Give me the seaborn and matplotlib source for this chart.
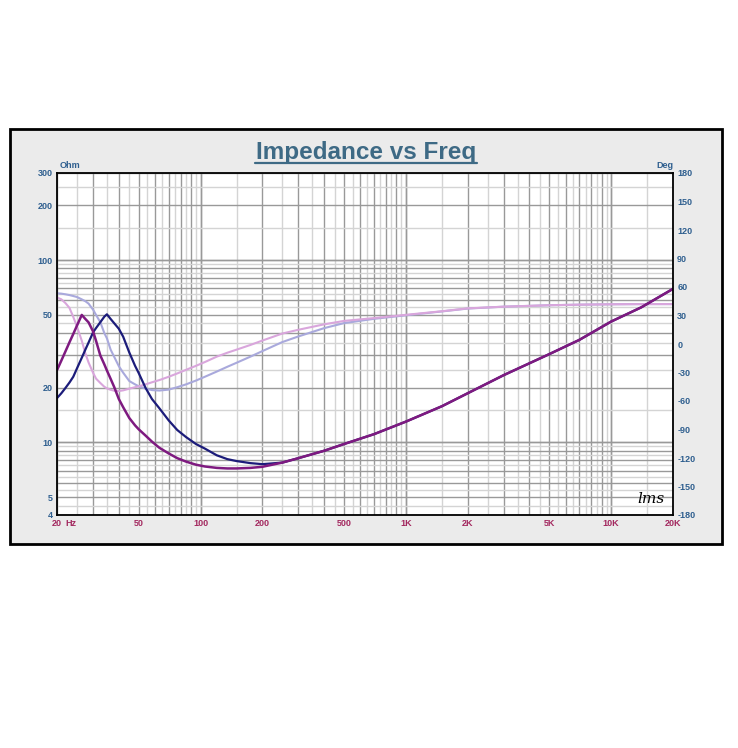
import matplotlib
matplotlib.use("Agg")
import numpy as np
import pandas as pd
import matplotlib.pyplot as plt
import matplotlib.transforms as mtransforms
from matplotlib.patches import Rectangle
from matplotlib.lines import Line2D
from matplotlib.ticker import NullLocator
import seaborn as sns

# %% data
freq = [20, 21, 22, 23, 24, 25, 26.4, 27.5, 28.5, 30,
        31, 32.5, 34, 35, 36.5, 38, 40, 42, 45, 48,
        50, 54, 58, 63, 70, 77, 85, 95, 105, 120,
        135, 150, 175, 200, 250, 300, 400, 500, 700, 1000,
        1500, 2000, 3000, 5000, 7000, 10000, 14000, 20000]

imp_purple = [24.9, 28.1, 31.6, 35.4, 39.3, 43.6, 50, 47.5, 45.5, 40.5,
              36, 30, 26.8, 24.8, 22.3, 20.1, 17.3, 15.6, 13.6, 12.4,
              11.8, 10.9, 10.1, 9.35, 8.7, 8.2, 7.85, 7.55, 7.38, 7.25,
              7.2, 7.2, 7.25, 7.35, 7.75, 8.2, 9.0, 9.8, 11.1, 13.0,
              15.8, 18.6, 23.4, 30.5, 36.5, 46, 55, 69.5]
imp_navy = [17.5, 18.6, 19.9, 21.3, 22.9, 25.4, 29.1, 32.3, 35.3, 40.2,
            42.4, 45.6, 48.9, 50.4, 47.5, 45, 42, 38, 31.1, 26.3,
            24, 19.9, 17.3, 15.4, 13.2, 11.7, 10.7, 9.8, 9.25, 8.5,
            8.1, 7.9, 7.7, 7.6, 7.75, 8.2, 9.0, 9.8, 11.1, 13.0,
            15.8, 18.6, 23.4, 30.5, 36.5, 46, 55, 69.5]
phase_pink = [49, 47, 43, 38, 28.5, 18.5, 3.5, -10, -19.5, -30.5,
              -36.5, -41, -45, -46.7, -48.2, -49.2, -49.5, -48.8, -47, -45.5,
              -44.6, -42.5, -40.3, -38, -34.5, -31, -27.2, -23, -19, -13.3,
              -9.2, -5.9, -1, 3.6, 11, 15, 20.7, 24.3, 27.3, 30.7,
              34.5, 37.5, 39.3, 40.8, 41.4, 41.8, 42, 42]
phase_lav = [53.4, 53, 52.3, 51.5, 50.5, 49.5, 47, 45, 42.5, 36,
             30.5, 23, 11.5, 6, -6, -13.6, -23.3, -30.2, -39, -42.5,
             -44.5, -47, -48.5, -49, -48, -45.5, -42.5, -38.5, -34.5, -29,
             -24, -19.7, -13.3, -7.5, 2, 8, 16.7, 22, 26.5, 30.2,
             34.3, 37.3, 39.3, 40.8, 41.4, 41.8, 42, 42]

x_ticks = [20, 23.4, 50, 100, 200, 500, 1000, 2000, 5000, 10000, 20000]
x_labels = ["20", "Hz", "50", "100", "200", "500", "1K", "2K", "5K", "10K", "20K"]
ohm_ticks = [4, 5, 10, 20, 50, 100, 200, 300]
deg_ticks = list(range(-180, 181, 30))

# %%
sns.set_style("white")
plt.rcParams['font.family'] = ['Liberation Sans', 'DejaVu Sans']

df = pd.DataFrame({"freq": freq, "imp_purple": imp_purple, "imp_navy": imp_navy,
                   "phase_pink": phase_pink, "phase_lav": phase_lav})

fig = plt.figure(figsize=(7.38, 7.48), dpi=100)
W, H = 738, 748

# grey panel with black frame
fig.patches.append(Rectangle((9.5 / W, 1 - 543.7 / H), (722 - 9.5) / W, (543.7 - 128.5) / H,
                             transform=fig.transFigure, facecolor="#ebebeb",
                             edgecolor="black", lw=2.0, zorder=0))

ax = fig.add_axes([57 / W, 1 - 515 / H, (673 - 57) / W, (515 - 173) / H])
ax2 = ax.twinx()
ax.set_zorder(3)
ax2.set_zorder(2)
ax.patch.set_visible(False)
ax2.patch.set_visible(True)
ax2.patch.set_facecolor("white")

ax.set_xscale("log")
ax.set_yscale("log")
ax.set_xlim(20, 20000)
ax.set_ylim(4, 300)
ax2.set_ylim(-180, 180)

# LMS style grid: solid at integer multiples, light at half steps
dark, light = "#999999", "#d4d4d4"
blend = mtransforms.blended_transform_factory(ax2.transAxes, ax.transData)
for base in [10, 100, 1000, 10000]:
    for k in np.arange(1, 10.5, 0.5):
        v = k * base
        if 20 <= v <= 20000:
            c = dark if k == int(k) else light
            ax2.axvline(v, color=c, lw=1.0, zorder=0)
for base in [1, 10, 100]:
    for k in np.arange(1, 10.5, 0.5):
        v = k * base
        if 4 <= v <= 300:
            c = dark if k == int(k) else light
            ax2.plot([0, 1], [v, v], transform=blend, color=c, lw=1.0, zorder=0)

sns.lineplot(data=df, x="freq", y="phase_lav", ax=ax2, color="#a9a9dc", lw=1.5, sort=False)
sns.lineplot(data=df, x="freq", y="phase_pink", ax=ax2, color="#d9a6dc", lw=1.5, sort=False)
sns.lineplot(data=df, x="freq", y="imp_navy", ax=ax, color="#1c1c7a", lw=1.6, sort=False)
sns.lineplot(data=df, x="freq", y="imp_purple", ax=ax, color="#7e1a80", lw=1.8, sort=False)

ax.set_xlabel("")
ax.set_ylabel("")
ax2.set_ylabel("")
ax.xaxis.set_minor_locator(NullLocator())
ax.yaxis.set_minor_locator(NullLocator())
ax.set_xticks(x_ticks)
ax.set_xticklabels(x_labels, color="#a3285f", fontsize=6.5, fontweight="bold")
ax.set_yticks(ohm_ticks)
ax.set_yticklabels([str(t) for t in ohm_ticks], color="#2f5f8f", fontsize=6.5, fontweight="bold")
ax2.set_yticks(deg_ticks)
ax2.set_yticklabels([str(t) for t in deg_ticks], color="#2f5f8f", fontsize=6.5, fontweight="bold")
ax.tick_params(axis="both", length=0, pad=3)
ax2.tick_params(axis="y", length=0, pad=3)
ax.set_ylim(4, 300)
ax2.set_ylim(-180, 180)
ax.set_xlim(20, 20000)

for s in ax.spines.values():
    s.set_color("black")
    s.set_linewidth(1.3)
for s in ax2.spines.values():
    s.set_visible(False)

# labels around the plot
fig.text(60 / W, 1 - 166 / H, "Ohm", fontsize=6.5, color="#2f5f8f", fontweight="bold",
         ha="left", va="center")
fig.text(673 / W, 1 - 166 / H, "Deg", fontsize=6.5, color="#2f5f8f", fontweight="bold",
         ha="right", va="center")
fig.text(366 / W, 1 - 158.5 / H, "Impedance vs Freq", fontsize=17.5, color="#3e6a85",
         fontweight="bold", ha="center", va="baseline")
fig.add_artist(Line2D([255 / W, 477 / W], [1 - 162.5 / H, 1 - 162.5 / H],
                      transform=fig.transFigure, color="#3e6a85", lw=1.6))
fig.text(651 / W, 1 - 499 / H, "lms", fontsize=11, style="italic",
         family="DejaVu Serif", color="black", ha="center", va="center")

plt.savefig("out.png", dpi=100)
